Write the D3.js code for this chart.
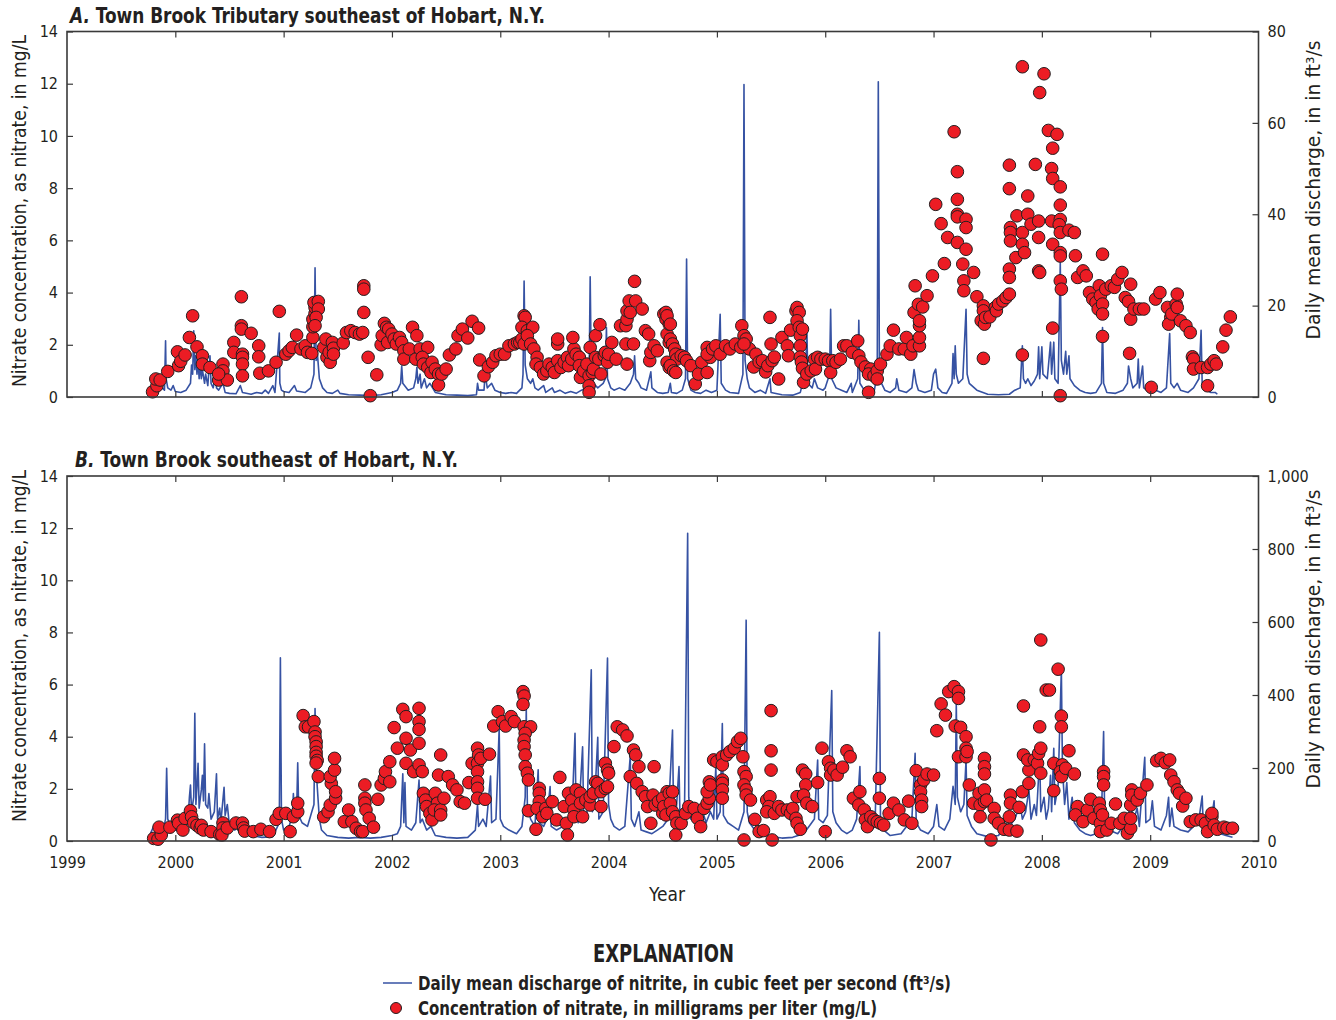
<!DOCTYPE html>
<html>
<head>
<meta charset="utf-8">
<style>
  body { margin: 0; background: #fff; }
  svg text { font-family: "Liberation Sans Narrow", "DejaVu Sans Condensed", "Roboto", sans-serif; fill: #231f20; }
  .tick text { font-size: 16px; }
  .ttl { font-size: 21px; font-weight: bold; }
  .lab { font-size: 19px; }
  .leg { font-size: 19px; font-weight: bold; }
</style>
</head>
<body>
<div id="chart"></div>
<script src="https://d3js.org/d3.v7.min.js"></script>
<script>
// ---- data: [decimal year, value] ----
const years = [1999, 2000, 2001, 2002, 2003, 2004, 2005, 2006, 2007, 2008, 2009, 2010];
const concTicks = [0, 2, 4, 6, 8, 10, 12, 14];
const flowTicksA = [0, 20, 40, 60, 80];
const flowTicksB = [0, 200, 400, 600, 800, 1000];

// A. discharge, ft3/s
const flowA = [[1999.75,0.5],[1999.8,1.5],[1999.82,3],[1999.84,1.5],[1999.88,2],[1999.9,1.5],[1999.91,12.3],[1999.915,4],[1999.93,2],[1999.96,1.5],[1999.98,2.5],[2000.0,1.2],[2000.05,1],[2000.1,1.5],[2000.14,3],[2000.15,7],[2000.16,5],[2000.17,14.5],[2000.18,6],[2000.19,9],[2000.2,5],[2000.21,8],[2000.22,4],[2000.23,7.5],[2000.24,4],[2000.25,6],[2000.27,3],[2000.28,5],[2000.3,2.5],[2000.32,9],[2000.33,3],[2000.35,2],[2000.37,5],[2000.38,2],[2000.4,1.5],[2000.44,3],[2000.46,1],[2000.5,0.8],[2000.56,0.7],[2000.6,2.5],[2000.62,1],[2000.7,0.6],[2000.75,1],[2000.8,0.8],[2000.83,1.5],[2000.86,0.8],[2000.9,2.5],[2000.92,1],[2000.96,14],[2000.965,3],[2000.98,1.5],[2001.0,1.2],[2001.05,1],[2001.1,2.5],[2001.12,1.3],[2001.2,1],[2001.25,2],[2001.28,5],[2001.29,28.3],[2001.3,8],[2001.31,10],[2001.33,4],[2001.36,2],[2001.4,1],[2001.45,0.8],[2001.5,1.5],[2001.52,0.8],[2001.6,0.5],[2001.7,0.4],[2001.8,0.3],[2001.9,0.5],[2002.0,1],[2002.05,1.5],[2002.08,3],[2002.09,6.8],[2002.1,3],[2002.15,1.5],[2002.2,2],[2002.22,4],[2002.23,6.5],[2002.24,3],[2002.26,5],[2002.27,2],[2002.3,4],[2002.32,2],[2002.35,3],[2002.4,1],[2002.5,0.5],[2002.6,0.4],[2002.7,0.3],[2002.78,0.5],[2002.79,3],[2002.8,1.5],[2002.85,1.5],[2002.86,5],[2002.88,2],[2002.92,3],[2002.95,1.5],[2003.0,1],[2003.05,0.8],[2003.1,1],[2003.15,0.8],[2003.2,2],[2003.21,5],[2003.22,25.4],[2003.23,7],[2003.25,4],[2003.28,3],[2003.3,4],[2003.32,2],[2003.35,1.5],[2003.4,2.5],[2003.42,1],[2003.48,2],[2003.5,1],[2003.55,1.5],[2003.6,0.8],[2003.65,1.2],[2003.7,0.8],[2003.75,1.5],[2003.8,2],[2003.82,4],[2003.83,26.3],[2003.84,6],[2003.86,3],[2003.9,2],[2003.95,3],[2003.97,4],[2003.98,15.2],[2003.99,4],[2004.02,2],[2004.05,1.5],[2004.1,2],[2004.15,1.5],[2004.2,3],[2004.23,5],[2004.24,9],[2004.25,4],[2004.28,3],[2004.3,2],[2004.35,1.5],[2004.39,5.5],[2004.4,2],[2004.45,1],[2004.5,0.8],[2004.55,1],[2004.57,3],[2004.58,1],[2004.63,0.8],[2004.68,1.5],[2004.71,4],[2004.72,30.2],[2004.73,4],[2004.76,1.5],[2004.8,1],[2004.85,0.8],[2004.9,1.5],[2004.95,1],[2005.0,1.5],[2005.03,18.1],[2005.04,3],[2005.08,1.5],[2005.12,1],[2005.2,0.8],[2005.24,5],[2005.25,68.4],[2005.26,8],[2005.28,4],[2005.3,2],[2005.35,1],[2005.4,1.5],[2005.45,0.8],[2005.49,4],[2005.5,1],[2005.6,0.5],[2005.7,0.4],[2005.77,1],[2005.8,4],[2005.82,5],[2005.83,15.6],[2005.84,3],[2005.88,2],[2005.9,4],[2005.93,2],[2005.98,1.5],[2006.0,2],[2006.04,5],[2006.05,19.2],[2006.06,4],[2006.1,2],[2006.15,1.5],[2006.2,1],[2006.24,3],[2006.25,1],[2006.3,4],[2006.31,16.8],[2006.32,3],[2006.36,1.5],[2006.4,1],[2006.45,1],[2006.48,5],[2006.49,69],[2006.5,6],[2006.52,3],[2006.55,1.5],[2006.6,1],[2006.65,2],[2006.66,4],[2006.68,1.5],[2006.75,1],[2006.8,2],[2006.82,6],[2006.84,3],[2006.86,1.5],[2006.92,1],[2006.98,1.5],[2007.0,5],[2007.02,6.1],[2007.04,2],[2007.08,1],[2007.12,0.8],[2007.17,3],[2007.18,9.5],[2007.19,4],[2007.2,11.2],[2007.21,5],[2007.23,3],[2007.27,4],[2007.3,19.2],[2007.31,5],[2007.33,3],[2007.4,1.5],[2007.5,0.6],[2007.6,0.5],[2007.7,0.6],[2007.75,1.5],[2007.8,2],[2007.82,11.2],[2007.83,4],[2007.85,3],[2007.87,4],[2007.9,2.5],[2007.93,3.5],[2007.96,5],[2007.97,11],[2007.98,4],[2008.0,11],[2008.01,5],[2008.05,4],[2008.08,12],[2008.09,5],[2008.11,12],[2008.12,4],[2008.15,3],[2008.17,29.4],[2008.18,8],[2008.2,5],[2008.22,10],[2008.23,5],[2008.25,9],[2008.26,4],[2008.3,2.5],[2008.35,1.5],[2008.4,1],[2008.45,0.8],[2008.5,1],[2008.55,3],[2008.56,15.2],[2008.57,3],[2008.6,1],[2008.68,0.8],[2008.75,1.5],[2008.79,3],[2008.8,6.8],[2008.82,4],[2008.84,2],[2008.88,3],[2008.89,8.3],[2008.9,2],[2008.93,6.8],[2008.94,2],[2009.0,1],[2009.05,1.5],[2009.1,1],[2009.15,2],[2009.18,13.9],[2009.19,3],[2009.22,2],[2009.25,3],[2009.28,1.5],[2009.35,1],[2009.4,2],[2009.45,4],[2009.47,14.6],[2009.48,3],[2009.52,1.5],[2009.56,1],[2009.6,1],[2009.62,0.6]];

// A. nitrate, mg/L
const nitrateA = [[1999.79,0.2],[1999.83,0.43],[1999.82,0.69],[1999.86,0.65],[1999.93,0.98],[2000.02,1.73],[2000.03,1.2],[2000.05,1.37],[2000.09,1.61],[2000.13,2.28],[2000.16,3.11],[2000.2,1.92],[2000.25,1.58],[2000.25,1.26],[2000.32,1.13],[2000.4,0.65],[2000.44,1.26],[2000.44,1.0],[2000.48,0.65],[2000.4,0.88],[2000.54,2.09],[2000.54,1.71],[2000.61,3.84],[2000.61,2.73],[2000.61,2.6],[2000.62,1.64],[2000.62,1.52],[2000.62,1.26],[2000.62,0.81],[2000.7,2.44],[2000.77,1.96],[2000.77,1.54],[2000.78,0.91],[2000.86,1.0],[2000.93,1.33],[2000.96,3.28],[2001.02,1.64],[2001.05,1.77],[2001.08,1.9],[2001.12,2.37],[2001.16,1.84],[2001.2,1.96],[2001.22,1.71],[2001.26,1.67],[2001.27,2.28],[2001.27,2.69],[2001.27,2.98],[2001.29,3.2],[2001.29,3.43],[2001.28,3.62],[2001.32,3.66],[2001.32,3.37],[2001.3,3.05],[2001.29,2.73],[2001.37,1.9],[2001.39,2.22],[2001.4,1.52],[2001.43,1.33],[2001.42,1.71],[2001.45,2.09],[2001.46,1.87],[2001.46,1.64],[2001.55,2.07],[2001.58,2.47],[2001.62,2.54],[2001.66,2.47],[2001.7,2.41],[2001.73,2.47],[2001.74,4.26],[2001.74,4.13],[2001.74,3.24],[2001.78,1.52],[2001.8,0.05],[2001.86,0.85],
  [2001.9,2.0],[2001.91,2.35],[2001.93,2.82],[2001.95,2.67],[2001.97,2.6],[2001.96,2.09],[2002.0,2.41],[2002.02,2.22],[2002.04,2.03],[2002.07,2.28],[2002.09,2.09],[2002.11,1.77],[2002.11,1.45],[2002.16,1.84],[2002.19,2.67],[2002.23,2.35],[2002.22,1.45],[2002.26,1.84],[2002.33,1.9],[2002.28,1.52],[2002.29,1.26],[2002.33,1.13],[2002.36,0.94],[2002.37,1.33],[2002.4,1.07],[2002.43,0.88],[2002.43,0.46],[2002.46,0.88],[2002.5,1.07],[2002.53,1.61],[2002.59,1.84],[2002.61,2.35],[2002.65,2.6],[2002.7,2.26],[2002.74,2.9],[2002.8,2.64],[2002.81,1.42],[2002.85,0.81],[2002.89,1.16],[2002.93,1.33],[2002.96,1.58],[2003.0,1.64],[2003.04,1.64],[2003.08,1.96],[2003.13,2.03],[2003.16,2.09],[2003.18,2.09],[2003.2,2.22],[2003.22,3.11],[2003.23,3.05],[2003.2,2.67],[2003.25,2.54],[2003.3,2.67],[2003.22,2.03],[2003.25,2.35],[2003.28,2.03],[2003.31,1.84],[2003.34,1.52],[2003.33,1.26],[2003.37,1.13],[2003.4,0.88],[2003.43,1.0],[2003.45,1.26],[2003.48,1.13],[2003.5,0.94],[2003.53,1.39],[2003.53,2.03],[2003.53,2.22],[2003.56,1.13],[2003.59,1.33],[2003.62,1.52],[2003.63,1.2],[2003.66,1.45],[2003.68,1.84],[2003.67,2.28],[2003.7,1.64],[2003.73,1.52],[2003.73,1.2],[2003.74,0.75],[2003.77,1.0],[2003.8,1.26],[2003.82,0.81],[2003.82,0.43],[2003.82,0.18],[2003.83,1.9],[2003.85,0.94],[2003.86,1.07],[2003.88,1.52],[2003.88,2.35],[2003.91,1.45],[2003.92,2.77],[2003.93,0.88],[2003.96,1.58],[2003.97,1.71],[2003.99,1.33],[2004.0,1.64],[2004.03,2.09],[2004.07,1.45],[2004.11,2.73],[2004.16,2.73],[2004.16,2.03],[2004.17,2.98],[2004.17,3.3],[2004.19,3.68],[2004.2,3.24],[2004.23,2.03],[2004.24,4.43],[2004.25,3.68],[2004.31,3.37],[2004.17,1.26],[2004.34,2.54],[2004.37,2.41],[2004.38,1.39],[2004.39,1.71],[2004.42,1.96],[2004.45,1.77],[2004.51,3.18],[2004.53,2.98],[2004.54,2.41],[2004.56,2.79],[2004.56,2.09],[2004.54,1.33],[2004.56,1.13],
  [2004.53,3.24],[2004.54,3.11],[2004.57,2.79],[2004.57,2.22],[2004.59,2.03],[2004.61,1.84],[2004.62,1.64],[2004.63,1.45],[2004.57,1.2],[2004.6,1.0],[2004.62,0.94],[2004.67,1.58],[2004.7,1.52],[2004.72,1.39],[2004.76,1.2],[2004.8,0.5],[2004.83,0.88],[2004.86,1.33],[2004.91,1.9],[2004.91,0.94],[2004.94,1.52],[2004.91,1.64],[2004.96,1.84],[2004.99,1.96],[2005.03,1.64],[2005.08,1.96],[2005.12,1.84],[2005.17,2.03],[2005.23,2.73],[2005.25,2.35],[2005.27,2.22],[2005.22,1.9],[2005.3,1.84],[2005.25,2.03],[2005.36,1.64],[2005.34,1.15],[2005.39,1.34],[2005.42,1.39],[2005.45,0.96],[2005.47,1.2],[2005.5,2.03],[2005.51,1.39],[2005.53,1.53],[2005.49,3.05],[2005.57,0.69],[2005.6,2.28],[2005.65,1.96],[2005.66,1.58],[2005.68,2.56],[2005.73,3.3],[2005.74,3.43],[2005.76,3.24],[2005.74,2.92],[2005.76,2.67],[2005.77,2.35],[2005.77,1.96],[2005.79,2.6],[2005.77,1.53],[2005.78,1.34],[2005.79,1.1],[2005.8,0.56],[2005.83,0.88],[2005.87,1.0],[2005.9,1.45],[2005.91,1.07],[2005.93,1.52],[2005.96,1.45],[2006.0,1.45],[2006.03,1.39],[2006.05,0.94],[2006.07,1.39],[2006.1,1.33],[2006.14,1.45],
  [2006.17,1.96],[2006.2,1.96],[2006.25,1.71],[2006.3,2.15],[2006.31,1.58],[2006.33,1.34],[2006.37,1.15],[2006.42,1.07],[2006.4,0.88],[2006.45,0.81],[2006.48,1.0],[2006.48,0.69],[2006.51,1.26],[2006.4,0.18],[2006.57,1.64],[2006.6,1.96],[2006.63,2.56],[2006.68,1.84],[2006.73,1.84],[2006.75,2.28],[2006.79,1.64],[2006.81,1.96],[2006.82,3.24],[2006.83,4.26],[2006.86,3.55],[2006.9,3.45],[2006.87,1.96],[2006.87,2.28],[2006.87,2.73],[2006.87,2.92],[2006.94,3.88],[2006.99,4.64],[2007.02,7.38],[2007.07,6.64],[2007.1,5.11],[2007.13,6.11],[2007.19,10.16],[2007.22,8.63],[2007.22,7.57],[2007.22,7.0],[2007.22,6.9],[2007.22,5.92],[2007.27,5.09],[2007.28,4.45],[2007.28,4.07],[2007.3,6.81],[2007.3,6.49],[2007.3,5.66],
  [2007.37,4.77],[2007.4,3.84],[2007.46,3.49],[2007.46,3.3],[2007.44,2.92],[2007.47,2.79],[2007.48,3.05],[2007.52,3.07],[2007.57,3.43],[2007.58,3.3],[2007.6,3.56],[2007.64,3.68],[2007.67,3.81],[2007.7,3.94],[2007.46,1.48],[2007.7,4.9],[2007.7,4.58],[2007.71,6.49],[2007.71,6.3],[2007.71,5.98],[2007.7,8.88],[2007.7,7.98],[2007.76,5.34],[2007.77,6.94],[2007.82,6.3],[2007.82,5.85],[2007.84,5.53],[2007.82,12.65],[2007.82,1.61],[2007.87,7.7],[2007.87,7.0],[2007.9,6.62],[2007.94,8.91],[2007.97,6.74],[2007.97,6.11],[2007.97,4.83],[2007.98,4.77],[2007.98,11.66],[2008.02,12.38],[2008.06,10.21],[2008.14,10.06],[2008.1,9.53],[2008.09,8.75],[2008.1,8.37],[2008.09,6.74],[2008.1,5.85],[2008.1,2.64],[2008.17,8.05],[2008.17,7.35],[2008.17,6.8],[2008.16,6.6],[2008.17,6.3],[2008.17,5.53],[2008.17,5.4],[2008.17,4.45],[2008.18,4.13],[2008.17,0.05],[2008.25,6.39],[2008.3,6.3],[2008.31,5.41],[2008.33,4.58],[2008.38,4.83],[2008.41,4.64],[2008.44,4.0],[2008.47,3.75],[2008.5,3.62],[2008.52,3.37],[2008.56,5.47],[2008.53,4.26],[2008.54,3.88],[2008.56,3.56],[2008.56,3.18],[2008.56,2.32],[2008.59,4.13],[2008.64,4.26],[2008.67,4.2],[2008.7,4.51],[2008.74,4.77],[2008.77,3.81],[2008.8,3.66],[2008.82,4.32],[2008.82,2.98],[2008.85,3.37],[2008.9,3.37],[2008.94,3.37],[2008.81,1.67],[2009.01,0.37],[2009.05,3.75],[2009.09,4.0],[2009.16,3.43],[2009.19,3.05],[2009.17,2.79],[2009.2,3.18],[2009.24,3.56],[2009.25,3.94],[2009.25,3.43],[2009.28,2.92],[2009.33,2.73],[2009.37,2.47],[2009.39,1.54],[2009.4,1.45],[2009.4,1.07],[2009.47,1.13],[2009.53,1.13],[2009.56,1.26],[2009.59,1.39],[2009.53,0.43],[2009.61,1.26],[2009.67,1.92],[2009.7,2.56],[2009.74,3.07]];

// B. discharge, ft3/s
const flowB = [[1999.77,20],[1999.8,40],[1999.82,25],[1999.85,30],[1999.88,20],[1999.91,60],[1999.92,199],[1999.93,60],[1999.96,40],[2000.0,30],[2000.05,25],[2000.1,40],[2000.12,70],[2000.13,120],[2000.14,153],[2000.15,80],[2000.17,120],[2000.18,350],[2000.19,100],[2000.2,150],[2000.21,213],[2000.22,90],[2000.24,140],[2000.25,180],[2000.26,110],[2000.27,266],[2000.28,100],[2000.3,90],[2000.31,130],[2000.33,60],[2000.36,80],[2000.38,184],[2000.39,60],[2000.41,90],[2000.42,50],[2000.45,147],[2000.46,70],[2000.48,100],[2000.5,40],[2000.55,30],[2000.6,50],[2000.62,20],[2000.7,15],[2000.8,10],[2000.9,12],[2000.96,50],[2000.97,502],[2000.98,60],[2001.0,30],[2001.05,40],[2001.08,70],[2001.09,130],[2001.1,60],[2001.12,80],[2001.13,214],[2001.14,70],[2001.17,50],[2001.22,40],[2001.26,80],[2001.28,100],[2001.29,363],[2001.3,200],[2001.31,150],[2001.33,60],[2001.35,30],[2001.4,15],[2001.5,10],[2001.6,8],[2001.7,10],[2001.8,8],[2001.9,10],[2002.0,15],[2002.05,20],[2002.08,40],[2002.1,184],[2002.11,50],[2002.12,160],[2002.13,40],[2002.18,30],[2002.22,50],[2002.25,167],[2002.26,50],[2002.28,60],[2002.32,30],[2002.36,40],[2002.4,15],[2002.5,10],[2002.6,8],[2002.7,10],[2002.77,30],[2002.79,99],[2002.8,40],[2002.84,60],[2002.87,40],[2002.91,178],[2002.92,50],[2002.96,60],[2002.99,309],[2003.0,60],[2003.03,40],[2003.08,30],[2003.15,20],[2003.2,40],[2003.23,120],[2003.24,364],[2003.25,100],[2003.28,60],[2003.32,40],[2003.35,195],[2003.36,50],[2003.4,40],[2003.43,60],[2003.46,149],[2003.47,40],[2003.52,30],[2003.58,40],[2003.62,30],[2003.66,60],[2003.69,295],[2003.7,70],[2003.72,50],[2003.76,258],[2003.77,60],[2003.8,70],[2003.84,469],[2003.85,80],[2003.87,100],[2003.9,284],[2003.91,60],[2003.95,80],[2003.99,501],[2004.0,100],[2004.02,60],[2004.05,40],[2004.1,30],[2004.15,40],[2004.2,233],[2004.21,60],[2004.24,40],[2004.28,80],[2004.3,30],[2004.35,25],[2004.4,20],[2004.45,30],[2004.5,40],[2004.55,60],[2004.59,304],[2004.6,70],[2004.62,60],[2004.65,204],[2004.66,50],[2004.7,60],[2004.73,843],[2004.74,120],[2004.76,60],[2004.8,70],[2004.83,50],[2004.86,90],[2004.9,50],[2004.94,80],[2004.97,60],[2004.99,204],[2005.0,60],[2005.03,80],[2005.05,322],[2005.06,70],[2005.1,50],[2005.15,40],[2005.2,30],[2005.25,80],[2005.27,605],[2005.28,80],[2005.3,50],[2005.35,30],[2005.4,20],[2005.5,12],[2005.6,8],[2005.7,10],[2005.8,20],[2005.85,40],[2005.9,60],[2005.93,222],[2005.94,60],[2005.98,50],[2006.02,70],[2006.06,412],[2006.07,80],[2006.1,50],[2006.15,30],[2006.2,20],[2006.25,30],[2006.29,60],[2006.32,204],[2006.33,50],[2006.38,40],[2006.42,30],[2006.46,40],[2006.5,572],[2006.51,60],[2006.54,30],[2006.6,15],[2006.7,20],[2006.75,40],[2006.8,60],[2006.83,240],[2006.84,50],[2006.88,30],[2006.95,20],[2007.0,40],[2007.03,100],[2007.05,40],[2007.1,30],[2007.15,60],[2007.18,150],[2007.2,100],[2007.21,377],[2007.22,120],[2007.25,80],[2007.28,100],[2007.3,222],[2007.31,70],[2007.35,40],[2007.4,20],[2007.5,12],[2007.6,15],[2007.65,40],[2007.67,80],[2007.7,40],[2007.75,60],[2007.8,100],[2007.82,60],[2007.85,80],[2007.88,140],[2007.9,60],[2007.93,100],[2007.95,70],[2007.98,231],[2007.99,80],[2008.02,120],[2008.04,60],[2008.06,90],[2008.08,180],[2008.09,80],[2008.11,254],[2008.12,100],[2008.15,150],[2008.18,470],[2008.19,200],[2008.21,100],[2008.23,160],[2008.25,60],[2008.28,120],[2008.3,50],[2008.35,30],[2008.4,20],[2008.45,15],[2008.5,20],[2008.55,60],[2008.57,300],[2008.58,60],[2008.62,30],[2008.7,20],[2008.75,40],[2008.8,70],[2008.82,120],[2008.84,50],[2008.88,90],[2008.9,40],[2008.95,229],[2008.96,50],[2009.0,60],[2009.02,110],[2009.04,40],[2009.1,30],[2009.15,70],[2009.17,120],[2009.18,40],[2009.2,90],[2009.22,40],[2009.28,30],[2009.35,25],[2009.4,40],[2009.45,60],[2009.48,123],[2009.49,40],[2009.52,30],[2009.56,50],[2009.59,110],[2009.6,30],[2009.65,20],[2009.7,15],[2009.76,10]];

// B. nitrate, mg/L
const nitrateB = [[1999.8,0.1],[1999.84,0.07],[1999.87,0.23],[1999.85,0.53],[1999.95,0.53],[2000.02,0.8],[2000.03,0.68],[2000.07,0.42],[2000.09,0.87],[2000.14,1.16],[2000.15,0.93],[2000.17,0.7],[2000.2,0.6],[2000.23,0.5],[2000.24,0.6],[2000.26,0.42],[2000.33,0.36],[2000.41,0.25],[2000.44,0.69],[2000.44,0.5],[2000.43,0.23],[2000.48,0.5],[2000.56,0.69],[2000.62,0.69],[2000.63,0.5],[2000.64,0.38],[2000.72,0.36],[2000.79,0.45],[2000.87,0.36],[2000.93,0.83],[2000.96,1.06],[2001.02,1.06],[2001.06,0.36],[2001.09,0.93],[2001.13,1.12],[2001.13,1.45],[2001.18,4.81],[2001.2,4.38],[2001.23,4.38],[2001.28,4.58],[2001.29,4.18],[2001.29,4.0],[2001.3,3.8],[2001.3,3.62],[2001.3,3.4],[2001.3,3.25],[2001.31,3.09],[2001.3,2.99],[2001.32,2.47],[2001.37,0.93],[2001.41,1.12],[2001.43,1.38],[2001.44,2.21],[2001.43,2.47],[2001.47,2.72],[2001.47,3.17],[2001.48,1.64],[2001.48,1.89],[2001.56,0.74],[2001.6,1.19],[2001.63,0.74],[2001.67,0.49],[2001.71,0.36],[2001.75,2.15],[2001.75,1.64],[2001.75,1.45],[2001.76,1.19],[2001.79,0.87],
  [2001.73,0.36],[2001.83,0.53],[2001.87,1.6],[2001.9,2.15],[2001.93,2.4],[2001.94,2.66],[2001.98,3.04],[2001.98,2.27],[2002.02,4.35],[2002.05,3.56],[2002.1,5.05],[2002.13,4.77],[2002.13,3.94],[2002.13,2.98],[2002.17,3.49],[2002.2,2.66],[2002.25,5.09],[2002.25,4.58],[2002.25,4.28],[2002.25,3.75],[2002.25,2.92],[2002.28,2.66],[2002.29,1.83],[2002.31,1.57],[2002.32,1.32],[2002.35,1.06],[2002.37,0.81],[2002.4,1.83],[2002.42,1.45],[2002.39,1.19],[2002.45,1.19],[2002.45,1.0],[2002.43,2.53],[2002.45,3.3],[2002.48,1.64],[2002.52,2.47],[2002.56,2.15],[2002.6,1.96],[2002.63,1.51],[2002.67,1.45],[2002.71,2.24],[2002.74,2.98],[2002.79,3.56],[2002.8,3.3],[2002.79,2.98],[2002.79,2.66],[2002.79,2.27],[2002.79,2.02],[2002.79,1.64],[2002.82,3.17],[2002.86,1.6],[2002.9,3.33],[2002.94,4.41],[2002.98,4.96],[2003.02,4.58],[2003.05,4.41],[2003.1,4.77],[2003.13,4.58],[2003.21,5.73],[2003.22,5.56],[2003.21,5.24],[2003.22,4.38],[2003.28,4.38],[2003.23,4.13],[2003.22,3.87],[2003.22,3.62],[2003.23,3.3],[2003.23,2.85],[2003.25,2.6],[2003.26,2.34],[2003.26,1.16],[2003.33,0.45],[2003.36,2.02],[2003.36,1.83],[2003.36,1.51],[2003.34,1.25],[2003.39,0.93],[2003.42,1.25],[2003.43,1.06],[2003.48,1.51],[2003.52,0.81],[2003.55,2.44],[2003.59,1.32],[2003.61,0.68],[2003.62,0.23],[2003.63,1.83],[2003.66,1.57],[2003.68,1.19],[2003.68,0.93],[2003.7,1.96],[2003.74,1.83],[2003.74,1.45],[2003.76,0.93],[2003.79,1.57],[2003.83,1.38],[2003.83,1.7],[2003.86,1.83],[2003.88,2.27],[2003.9,2.21],[2003.93,1.32],[2003.93,1.89],[2003.97,2.02],[2003.97,2.98],[2003.99,2.72],[2004.0,2.6],[2003.99,2.08],[2004.05,3.62],[2004.08,4.38],[2004.13,4.26],[2004.17,4.03],[2004.23,3.49],[2004.25,3.3],[2004.28,2.85],[2004.2,2.47],[2004.26,2.21],[2004.31,1.89],[2004.34,1.7],[2004.36,1.32],[2004.39,0.68],[2004.42,2.85],[2004.41,1.76],[2004.43,1.38],[2004.46,1.51],[2004.5,1.06],[2004.53,1.25],[2004.54,1.89],[2004.56,1.45],
  [2004.5,1.64],[2004.51,1.32],[2004.53,1.0],[2004.56,1.83],[2004.57,1.45],[2004.59,1.12],[2004.59,1.89],[2004.62,0.93],[2004.63,0.68],[2004.62,0.23],[2004.67,0.68],[2004.71,1.06],[2004.74,1.32],[2004.79,1.25],[2004.82,0.87],[2004.85,0.55],[2004.88,1.25],[2004.91,1.45],[2004.93,1.64],[2004.91,1.89],[2004.93,2.27],[2004.94,2.15],[2004.97,3.11],[2005.0,3.04],[2005.05,3.23],[2005.05,2.92],[2005.05,2.34],[2005.05,2.21],[2005.05,1.96],[2005.05,1.64],[2005.09,3.3],[2005.12,3.43],[2005.16,3.56],[2005.19,3.81],[2005.22,3.94],[2005.24,3.23],[2005.25,2.66],[2005.27,2.47],[2005.25,2.15],[2005.27,1.96],[2005.27,1.76],[2005.31,1.57],[2005.35,0.83],[2005.39,0.36],[2005.43,0.4],[2005.25,0.04],[2005.5,5.0],[2005.5,3.46],[2005.5,2.72],[2005.46,1.57],[2005.49,1.7],[2005.48,1.32],[2005.46,1.12],[2005.53,1.06],[2005.57,1.32],[2005.6,1.19],[2005.51,0.04],[2005.65,1.19],[2005.68,1.06],[2005.7,1.25],[2005.73,0.87],[2005.74,0.68],[2005.77,0.45],[2005.74,1.7],[2005.79,2.72],[2005.82,2.57],[2005.82,2.15],[2005.8,1.76],[2005.83,1.45],[2005.88,1.32],[2005.93,2.24],[2006.0,0.36],[2005.97,3.56],[2006.03,3.04],[2006.05,2.79],[2006.05,2.53],[2006.08,2.72],[2006.11,2.53],[2006.16,2.83],[2006.2,3.46],[2006.23,3.23],[2006.26,1.64],[2006.32,1.89],[2006.31,1.38],[2006.36,1.19],[2006.37,0.81],[2006.39,0.55],[2006.42,0.93],[2006.45,0.81],[2006.48,0.74],[2006.51,0.68],[2006.54,0.61],[2006.5,2.4],[2006.5,1.64],[2006.59,1.06],[2006.63,1.45],[2006.68,1.19],[2006.73,0.81],[2006.77,1.53],[2006.8,0.68],[2006.84,2.7],[2006.88,2.15],[2006.88,1.89],[2006.89,1.57],[2006.89,1.32],[2006.91,2.34],[2006.94,2.57],[2007.0,2.53],[2007.03,4.23],[2007.07,5.26],[2007.11,4.83],[2007.14,5.73],[2007.19,5.92],[2007.23,5.73],[2007.23,5.47],[2007.2,4.41],[2007.25,4.36],[2007.3,4.0],[2007.23,3.23],[2007.3,3.56],[2007.3,3.23],[2007.33,2.15],
  [2007.31,3.43],[2007.37,1.45],[2007.42,1.83],[2007.43,1.38],[2007.43,0.93],[2007.47,1.96],[2007.47,1.51],[2007.47,3.17],[2007.47,2.85],[2007.47,2.57],[2007.49,1.57],[2007.56,1.25],[2007.56,0.87],[2007.6,0.68],[2007.65,0.45],[2007.7,0.42],[2007.77,0.38],[2007.71,1.76],[2007.71,1.45],[2007.7,0.93],[2007.79,1.29],[2007.82,1.89],[2007.88,2.21],[2007.88,2.72],[2007.83,3.3],[2007.87,3.11],[2007.93,3.11],[2007.96,2.98],[2007.97,3.36],[2007.99,3.56],[2007.98,4.38],[2007.83,5.18],[2007.99,7.71],[2007.99,2.6],[2008.04,5.79],[2008.07,5.79],[2008.11,1.93],[2008.11,2.98],[2008.15,6.59],[2008.18,4.79],[2008.18,4.38],[2008.19,2.92],[2008.17,2.66],[2008.18,2.47],[2008.22,2.79],[2008.25,3.46],[2008.3,2.57],[2007.53,0.04],[2008.33,1.32],[2008.31,1.0],[2008.38,0.74],[2008.42,1.19],[2008.45,1.6],[2008.48,0.87],[2008.53,1.45],[2008.54,1.19],[2008.54,0.68],[2008.54,0.36],[2008.57,2.66],[2008.57,2.47],[2008.57,2.15],[2008.56,1.0],[2008.6,0.42],[2008.64,0.68],[2008.68,1.42],[2008.72,0.68],[2008.76,0.87],[2008.79,0.3],[2008.82,0.49],[2008.82,0.87],[2008.82,1.38],[2008.83,1.96],[2008.83,1.76],[2008.88,1.57],[2008.91,1.83],[2008.97,2.15],[2009.06,3.08],[2009.1,3.17],[2009.14,3.0],[2009.18,3.11],[2009.19,2.53],[2009.22,2.27],[2009.25,1.96],[2009.27,1.83],[2009.3,1.34],[2009.33,1.64],[2009.37,0.74],[2009.42,0.81],[2009.47,0.81],[2009.51,0.68],[2009.53,0.36],[2009.57,0.93],[2009.57,1.06],[2009.59,0.61],[2009.62,0.45],[2009.68,0.53],[2009.71,0.49],[2009.76,0.49]];

const panels = [
  { title: "Town Brook Tributary southeast of Hobart, N.Y.", letter: "A.", top: 31.5, bottom: 397,
    titleX: 70, titleLen: 475, flow: flowA, nitrate: nitrateA, flowMax: 80, flowTicks: flowTicksA,
    xLabels: false, rightLabelY: 190, leftLabelY: 211 },
  { title: "Town Brook southeast of Hobart, N.Y.", letter: "B.", top: 476, bottom: 841,
    titleX: 75, titleLen: 383, flow: flowB, nitrate: nitrateB, flowMax: 1000, flowTicks: flowTicksB,
    xLabels: true, rightLabelY: 639, leftLabelY: 646 }
];

const svg = d3.select("#chart").append("svg")
  .attr("width", 1336)
  .attr("height", 1020);

const left = 67, right = 1258.5;
const x = d3.scaleLinear().domain([1999, 2010]).range([left, right]);

const blue = "#3652a3", red = "#ec1c24", ink = "#231f20";

panels.forEach((p) => {
  const yL = d3.scaleLinear().domain([0, 14]).range([p.bottom, p.top]);
  const yR = d3.scaleLinear().domain([0, p.flowMax]).range([p.bottom, p.top]);
  const g = svg.append("g");

  // discharge line
  g.append("path")
    .datum(p.flow)
    .attr("fill", "none")
    .attr("stroke", blue)
    .attr("stroke-width", 1.6)
    .attr("stroke-linejoin", "round")
    .attr("d", d3.line().x(d => x(d[0])).y(d => yR(d[1])));

  // nitrate samples
  g.selectAll("circle.dot")
    .data(p.nitrate)
    .enter().append("circle")
    .attr("class", "dot")
    .attr("cx", d => x(d[0]))
    .attr("cy", d => yL(d[1]))
    .attr("r", 6.3)
    .attr("fill", red)
    .attr("stroke", ink)
    .attr("stroke-width", 1);

  // frame
  g.append("rect")
    .attr("x", left).attr("y", p.top)
    .attr("width", right - left).attr("height", p.bottom - p.top)
    .attr("fill", "none").attr("stroke", "#3a3a3a").attr("stroke-width", 1.6);

  // axes (ticks point inward)
  const ax = (a) => a.tickSizeInner(-6).tickSizeOuter(0);
  const la = g.append("g").attr("transform", `translate(${left},0)`)
    .call(ax(d3.axisLeft(yL).tickValues(concTicks)).tickPadding(9));
  const ra = g.append("g").attr("transform", `translate(${right},0)`)
    .call(ax(d3.axisRight(yR).tickValues(p.flowTicks).tickFormat(d3.format(","))).tickPadding(9));
  const ta = g.append("g").attr("transform", `translate(0,${p.top})`)
    .call(ax(d3.axisTop(x).tickValues(years.slice(1, -1))).tickFormat(""));
  const ba = g.append("g").attr("transform", `translate(0,${p.bottom})`)
    .call(ax(d3.axisBottom(x).tickValues(p.xLabels ? years : years.slice(1, -1)).tickFormat(p.xLabels ? d3.format("d") : "")).tickPadding(16));
  [la, ra, ta, ba].forEach(a => {
    a.select(".domain").remove();
    a.selectAll(".tick line").attr("stroke", "#3a3a3a").attr("stroke-width", 1.2);
    a.selectAll(".tick text").attr("fill", ink).attr("font-family", null).attr("font-size", null);
  });
  ba.selectAll(".tick line").filter(d => d === 1999 || d === 2010).remove();

  // title
  const t = svg.append("text").attr("class", "ttl").attr("x", p.titleX).attr("y", p.top - 9)
    .attr("textLength", p.titleLen).attr("lengthAdjust", "spacingAndGlyphs");
  t.append("tspan").attr("font-style", "italic").text(p.letter);
  t.append("tspan").text(" " + p.title);

  // axis titles
  svg.append("text").attr("class", "lab")
    .attr("transform", `translate(26,${p.leftLabelY}) rotate(-90)`)
    .attr("text-anchor", "middle")
    .attr("textLength", 352).attr("lengthAdjust", "spacingAndGlyphs")
    .text("Nitrate concentration, as nitrate, in mg/L");
  svg.append("text").attr("class", "lab")
    .attr("transform", `translate(1320,${p.rightLabelY}) rotate(-90)`)
    .attr("text-anchor", "middle")
    .attr("textLength", 299).attr("lengthAdjust", "spacingAndGlyphs")
    .text("Daily mean discharge, in in ft³/s");
});

svg.append("text").attr("class", "lab")
  .attr("x", 667).attr("y", 901).attr("text-anchor", "middle").text("Year");

// legend
svg.append("text").attr("x", 593).attr("y", 962)
  .attr("font-size", "24px").attr("font-weight", "bold")
  .attr("textLength", 141).attr("lengthAdjust", "spacingAndGlyphs").text("EXPLANATION");
svg.append("line").attr("x1", 383).attr("x2", 412).attr("y1", 983).attr("y2", 983)
  .attr("stroke", blue).attr("stroke-width", 1.5);
svg.append("text").attr("class", "leg").attr("x", 418).attr("y", 990)
  .attr("textLength", 533).attr("lengthAdjust", "spacingAndGlyphs")
  .text("Daily mean discharge of nitrite, in cubic feet per second (ft³/s)");
svg.append("circle").attr("cx", 396).attr("cy", 1008).attr("r", 5.5)
  .attr("fill", red).attr("stroke", ink).attr("stroke-width", 1);
svg.append("text").attr("class", "leg").attr("x", 418).attr("y", 1015)
  .attr("textLength", 459).attr("lengthAdjust", "spacingAndGlyphs")
  .text("Concentration of nitrate, in milligrams per liter (mg/L)");
</script>
</body>
</html>
